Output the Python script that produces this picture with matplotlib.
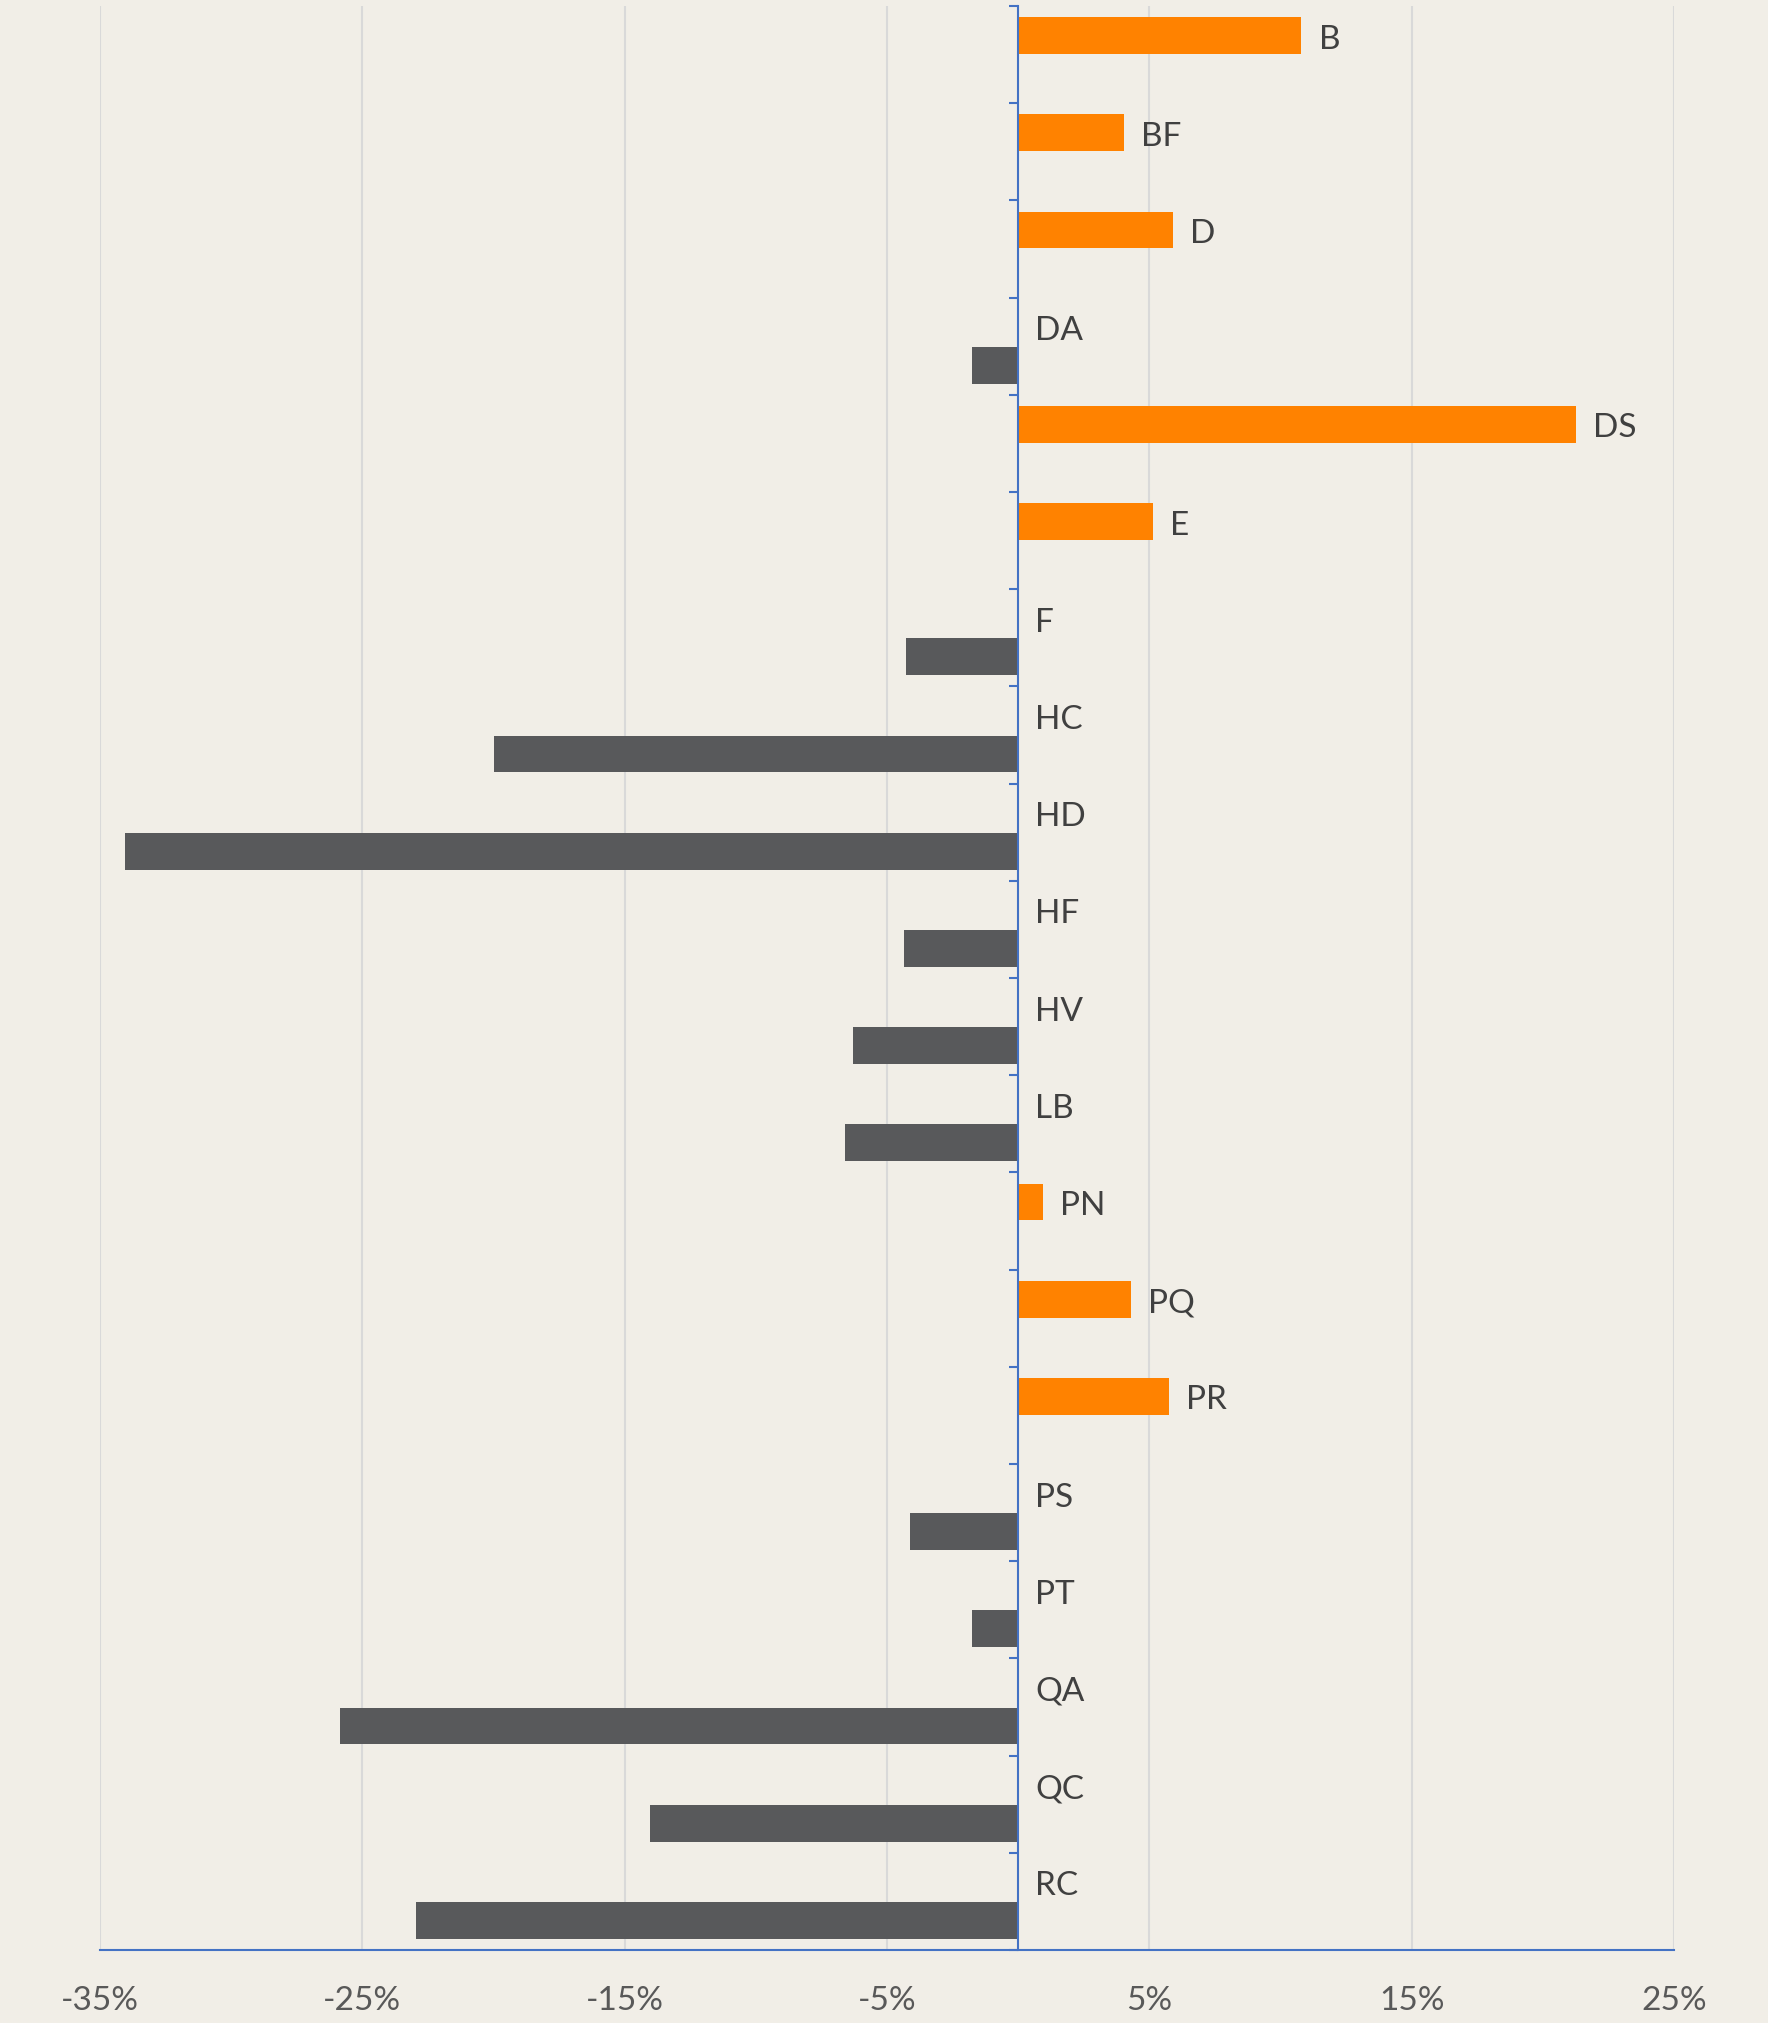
import numpy as np
import matplotlib
matplotlib.use('Agg')
import matplotlib.pyplot as plt

plt.rcParams['font.family'] = ['Lato', 'DejaVu Sans']

# chart data (percent change)
categories = ["B", "BF", "D", "DA", "DS", "E", "F", "HC", "HD", "HF",
              "HV", "LB", "PN", "PQ", "PR", "PS", "PT", "QA", "QC", "RC"]
gains = [10.8, 4.05, 5.9, 0, 21.25, 5.15, 0, 0, 0, 0,
         0, 0, 0.93, 4.3, 5.75, 0, 0, 0, 0, 0]
losses = [0, 0, 0, -1.75, 0, 0, -4.27, -19.97, -34.04, -4.37,
          -6.29, -6.59, 0, 0, 0, -4.12, -1.76, -25.87, -14.02, -22.97]
xticks = [-35, -25, -15, -5, 5, 15, 25]

BG = '#F1EEE7'
ORANGE = '#FF8200'
GREY = '#58595B'
BLUE = '#4472C4'

W, H = 1768, 2024
fig = plt.figure(figsize=(W / 100, H / 100), dpi=100, facecolor=BG)
ax = fig.add_axes([100 / W, (H - 1951) / H, 1574 / W, (1951 - 7) / H])
ax.set_facecolor(BG)

y = np.arange(len(categories))
bh = 0.378
off = 0.195
ax.barh(y - off, gains, height=bh, color=ORANGE, zorder=3)
ax.barh(y + off, losses, height=bh, color=GREY, zorder=3)

# category name labels next to the orange bar end
for i, name in enumerate(categories):
    ax.text(max(gains[i], 0) + 0.65, i - off + 0.03, name, ha='left', va='center',
            fontsize=24, color='#404040', zorder=4)

ax.set_xlim(-35, 25)
ax.set_ylim(len(categories) - 0.5, -0.5)
ax.set_xticks(xticks)
ax.set_xticklabels([f"{v}%" for v in xticks], fontsize=24, color='#595959')
ax.tick_params(axis='x', length=0, pad=25)

ax.set_yticks(np.arange(-0.5, len(categories), 1))
ax.set_yticklabels([])
ax.tick_params(axis='y', direction='out', length=6.5, width=1.5, color=BLUE)

ax.grid(axis='x', color='#D9D9D9', linewidth=1.5, zorder=0)
ax.set_axisbelow(True)

for s in ['top', 'right']:
    ax.spines[s].set_visible(False)
ax.spines['left'].set_position(('data', 0))
ax.spines['left'].set_color(BLUE)
ax.spines['left'].set_linewidth(1.5)
ax.spines['left'].set_zorder(5)
ax.spines['bottom'].set_color(BLUE)
ax.spines['bottom'].set_linewidth(1.5)

fig.savefig('out.png', dpi=100, facecolor=BG)
